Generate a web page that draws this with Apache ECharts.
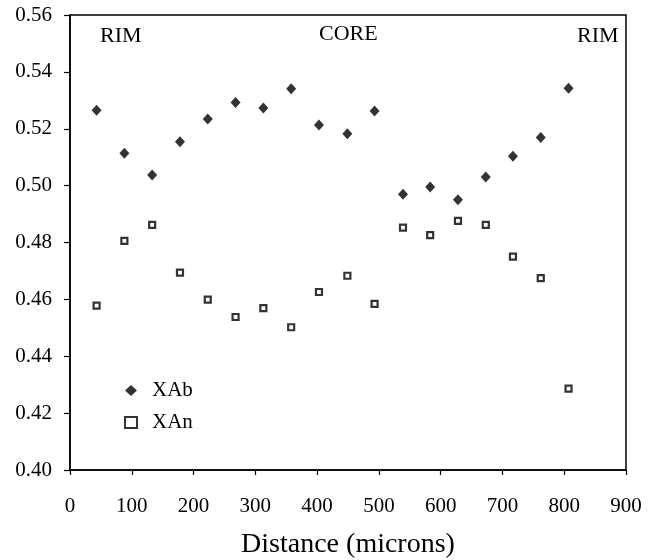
<!DOCTYPE html>
<html>
<head>
<meta charset="utf-8">
<script src="https://cdn.jsdelivr.net/npm/echarts@6/dist/echarts.min.js"></script>
<style>html,body{margin:0;padding:0;background:#fff}#c{width:651px;height:560px}</style>
</head>
<body>
<div id="c"></div>
<script>
var distance = [43, 88, 133, 178, 223, 268, 313, 358, 403, 449, 493, 539, 583, 628, 673, 717, 762, 807];
var xab = [0.5265, 0.5114, 0.5037, 0.5154, 0.5234, 0.5292, 0.5273, 0.5341, 0.5213, 0.5182, 0.5262, 0.4970, 0.4995, 0.4950, 0.5030, 0.5103, 0.5169, 0.5342];
var xan = [0.4578, 0.4806, 0.4862, 0.4694, 0.4599, 0.4538, 0.4569, 0.4502, 0.4626, 0.4683, 0.4584, 0.4852, 0.4826, 0.4876, 0.4862, 0.4750, 0.4675, 0.4286];
var xTicks = [0, 100, 200, 300, 400, 500, 600, 700, 800, 900];
var yTicks = [0.40, 0.42, 0.44, 0.46, 0.48, 0.50, 0.52, 0.54, 0.56];
var regionLabels = ['RIM', 'CORE', 'RIM'];

function pairs(xs, ys) { return xs.map(function (x, i) { return [x, ys[i]]; }); }

var FONT = 'Liberation Serif';
var chart = echarts.init(document.getElementById('c'));
chart.setOption({
  animation: false,
  backgroundColor: '#fff',
  textStyle: { fontFamily: FONT, color: '#000' },
  grid: { left: 70, right: 25, top: 15, bottom: 90, show: true, borderColor: '#000', borderWidth: 1.5, backgroundColor: 'transparent', outerBoundsMode: 'none', containLabel: false },
  xAxis: {
    type: 'value', min: xTicks[0], max: xTicks[xTicks.length - 1], interval: 100,
    name: 'Distance (microns)', nameLocation: 'middle', nameGap: 61,
    nameTextStyle: { fontFamily: FONT, fontSize: 28, color: '#000' },
    axisLine: { show: true, lineStyle: { color: '#000', width: 1.5 } },
    axisTick: { show: true, length: 5, inside: false, lineStyle: { color: '#000', width: 1.2 } },
    axisLabel: { fontFamily: FONT, fontSize: 21, color: '#000', margin: 26 },
    splitLine: { show: false }
  },
  yAxis: {
    type: 'value', min: yTicks[0], max: yTicks[yTicks.length - 1], interval: 0.02,
    axisLine: { show: true, lineStyle: { color: '#000', width: 1.5 } },
    axisTick: { show: true, length: 6, inside: false, lineStyle: { color: '#000', width: 1.2 } },
    axisLabel: { fontFamily: FONT, fontSize: 21, color: '#000', margin: 18, formatter: function (v) { return v.toFixed(2); } },
    splitLine: { show: false }
  },
  legend: {
    orient: 'vertical', left: 119, top: 375, itemGap: 11, itemWidth: 12, itemHeight: 11,
    textStyle: { fontFamily: FONT, fontSize: 21, color: '#000', padding: [0, 0, 0, 10] },
    data: [
      { name: 'XAb', icon: 'diamond' },
      { name: 'XAn', icon: 'rect', itemStyle: { color: '#fff', borderColor: '#000', borderWidth: 2 } }
    ]
  },
  series: [
    {
      name: 'XAb', type: 'scatter', symbol: 'diamond', symbolSize: [10, 11],
      itemStyle: { color: '#000' },
      data: pairs(distance, xab)
    },
    {
      name: 'XAn', type: 'scatter', symbol: 'rect', symbolSize: 6,
      itemStyle: { color: '#fff', borderColor: '#000', borderWidth: 2.2 },
      data: pairs(distance, xan)
    }
  ],
  graphic: [
    { type: 'text', left: 100, top: 25, style: { text: regionLabels[0], font: '22px "Liberation Serif"', fill: '#000' } },
    { type: 'text', left: 319, top: 23, style: { text: regionLabels[1], font: '22px "Liberation Serif"', fill: '#000' } },
    { type: 'text', left: 577, top: 25, style: { text: regionLabels[2], font: '22px "Liberation Serif"', fill: '#000' } }
  ]
});
</script>
</body>
</html>
